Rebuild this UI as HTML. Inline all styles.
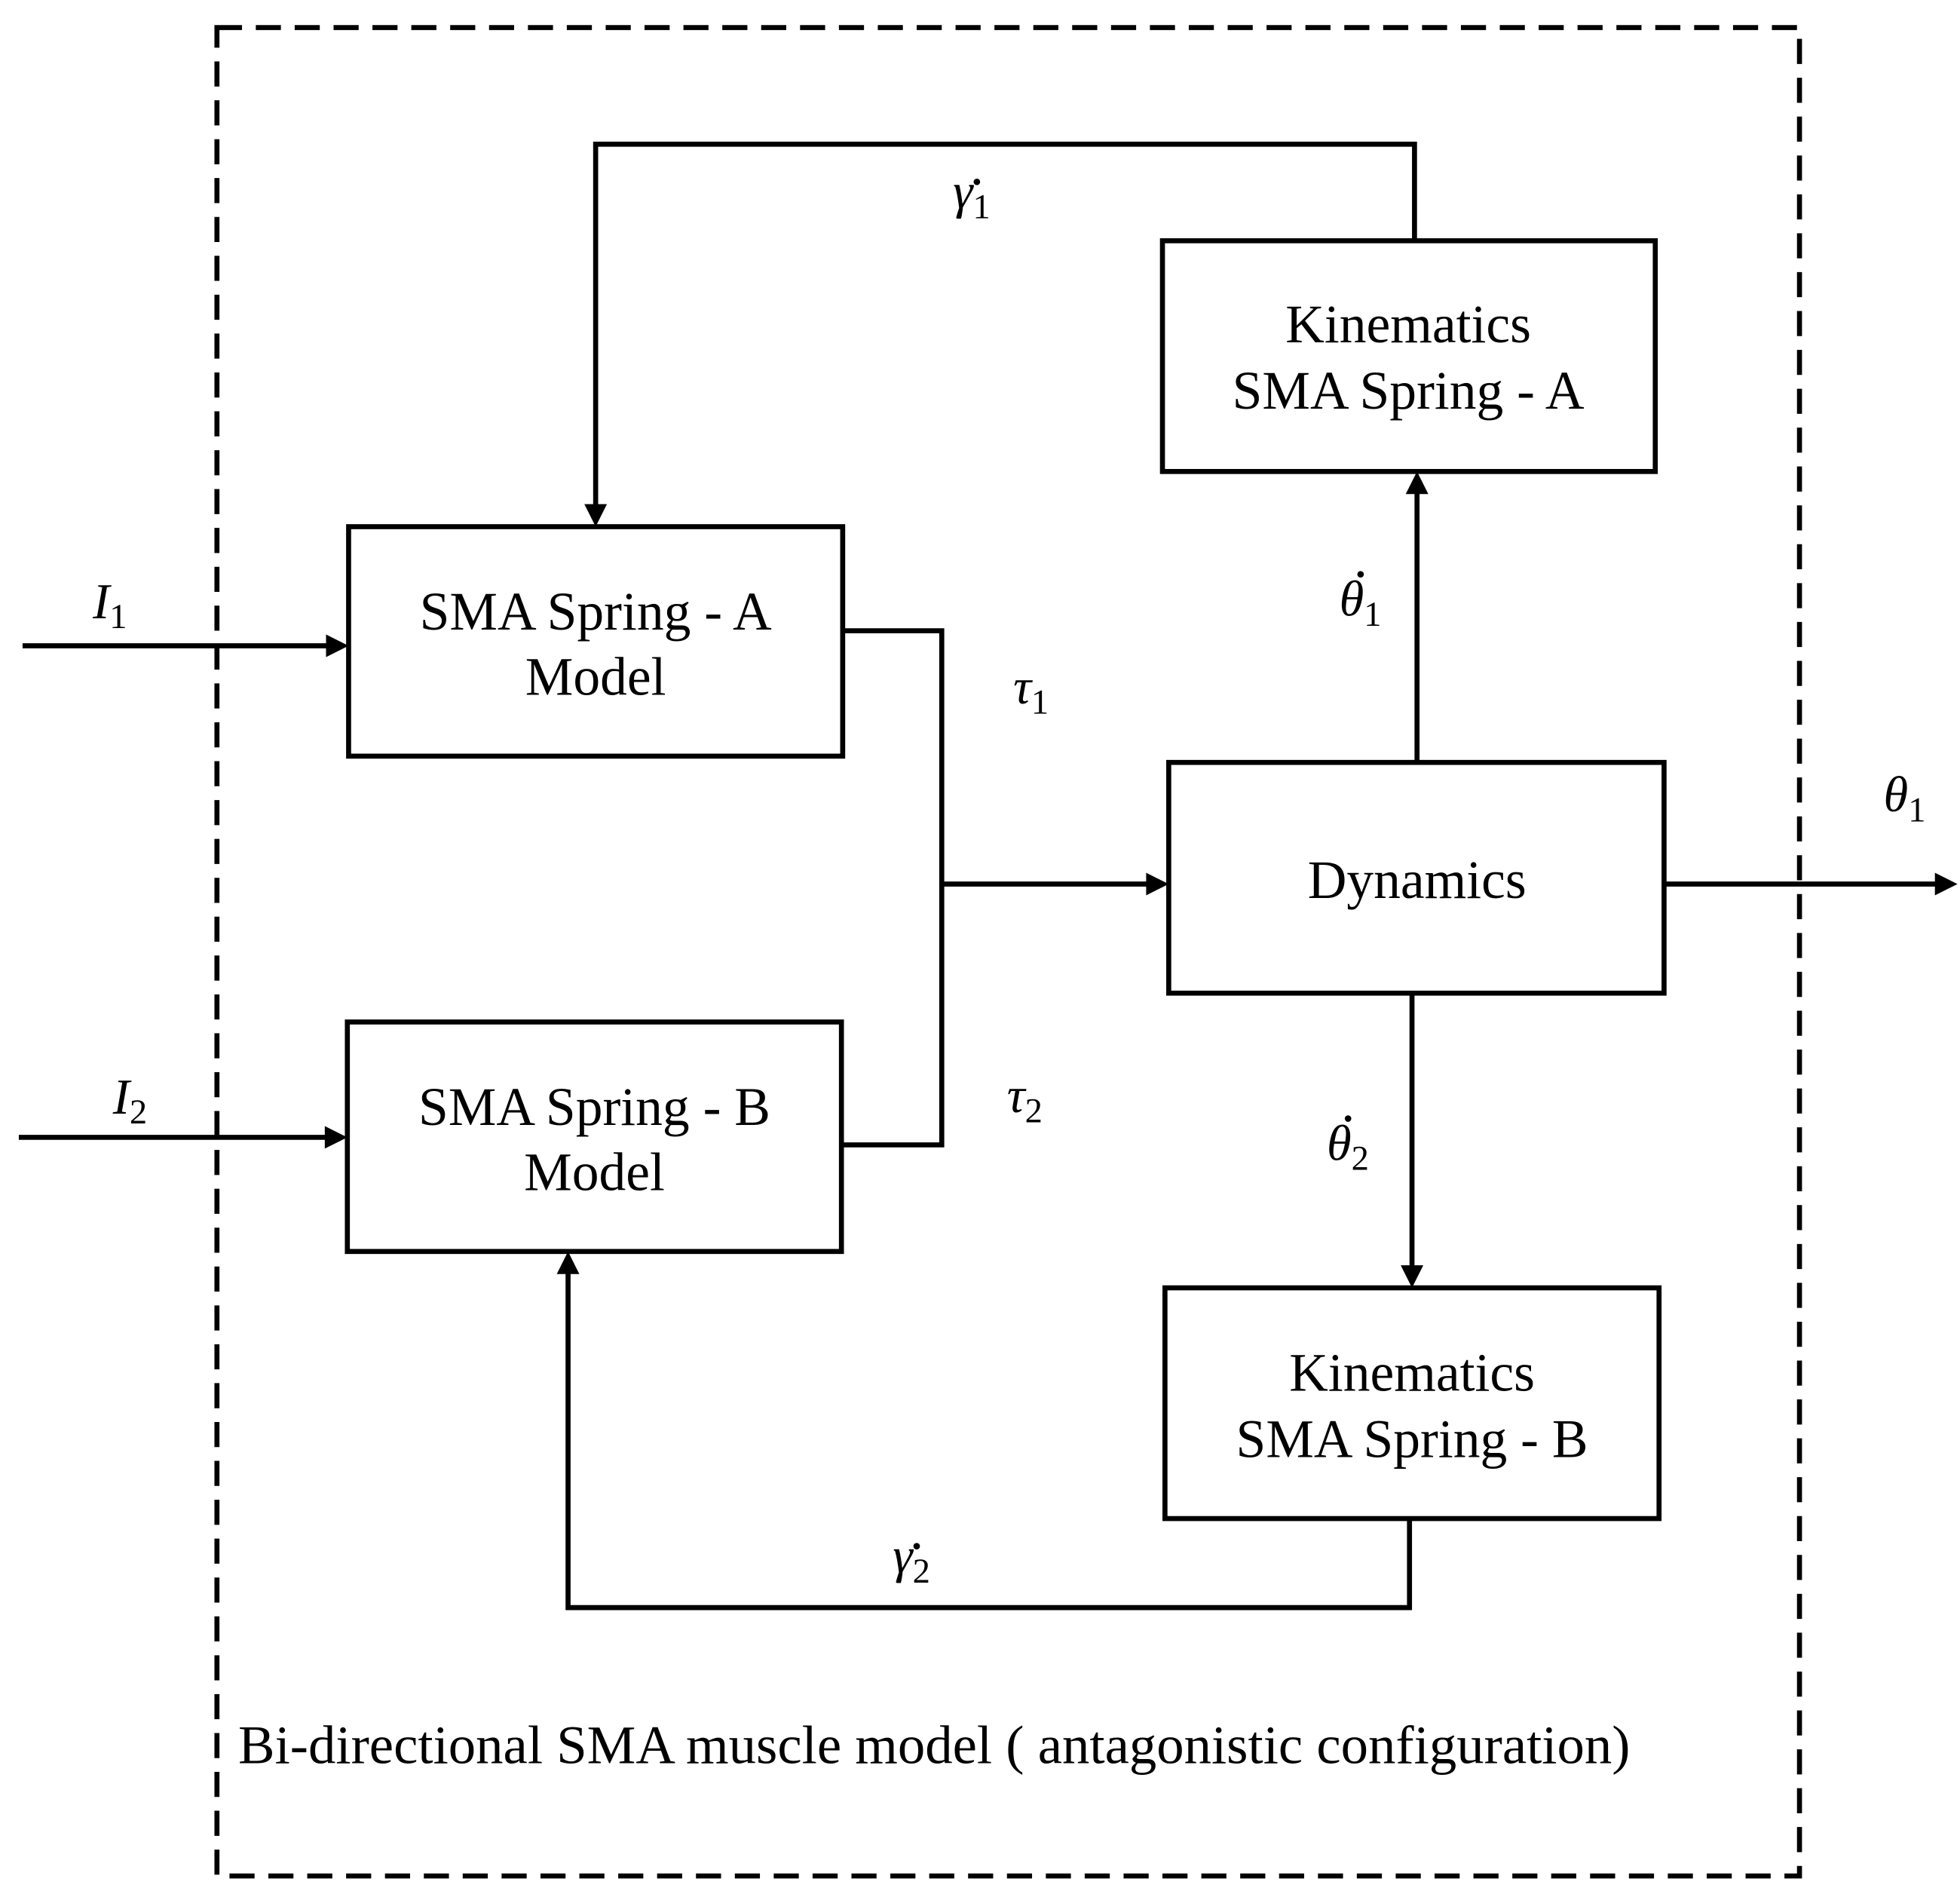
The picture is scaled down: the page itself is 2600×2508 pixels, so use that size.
<!DOCTYPE html>
<html><head><meta charset="utf-8">
<style>
html,body{margin:0;padding:0;background:#fff;}
svg{display:block;}
text{font-family:"Liberation Serif",serif;fill:#000;}
.b{font-size:43px;}
.m{font-size:40px;font-style:italic;}
.s{font-size:28px;font-style:normal;}
</style></head><body>
<svg width="2600" height="2508" viewBox="0 0 1563 1508" preserveAspectRatio="none" xmlns="http://www.w3.org/2000/svg">
<rect x="173" y="22" width="1262" height="1474" fill="none" stroke="#000" stroke-width="4" stroke-dasharray="20,11"/>
<g fill="none" stroke="#000" stroke-width="4">
<rect x="278" y="420" width="394" height="183"/>
<rect x="277" y="815" width="394" height="183"/>
<rect x="927" y="192" width="393" height="184"/>
<rect x="932" y="608" width="395" height="184"/>
<rect x="929" y="1027" width="394" height="184"/>
<path d="M18 515 H262"/>
<path d="M15 907 H261"/>
<path d="M672 503 H751 V913 H671"/>
<path d="M751 705 H916"/>
<path d="M1130 608 V392"/>
<path d="M1128 192 V115 H475 V404"/>
<path d="M1126 792 V1011"/>
<path d="M1124 1211 V1282 H453 V1014"/>
<path d="M1327 705 H1545"/>
</g>
<g fill="#000">
<polygon points="278,515 260,506 260,524"/>
<polygon points="277,907 259,898 259,916"/>
<polygon points="932,705 914,696 914,714"/>
<polygon points="1130,376 1121,394 1139,394"/>
<polygon points="475,420 466,402 484,402"/>
<polygon points="1126,1027 1117,1009 1135,1009"/>
<polygon points="453,998 444,1016 462,1016"/>
<polygon points="1561,705 1543,696 1543,714"/>
</g>
<g class="b" text-anchor="middle">
<text x="475" y="502">SMA Spring - A</text>
<text x="475" y="554">Model</text>
<text x="474" y="897">SMA Spring - B</text>
<text x="474" y="949">Model</text>
<text x="1123" y="273">Kinematics</text>
<text x="1123" y="326">SMA Spring - A</text>
<text x="1130" y="716">Dynamics</text>
<text x="1126" y="1109">Kinematics</text>
<text x="1126" y="1162">SMA Spring - B</text>
</g>
<text class="b" x="190" y="1406" textLength="1110" lengthAdjust="spacingAndGlyphs">Bi-directional SMA muscle model ( antagonistic configuration)</text>
<g class="m">
<text x="74" y="493">I<tspan class="s" dy="8">1</tspan></text>
<text x="90" y="888">I<tspan class="s" dy="8">2</tspan></text>
<text x="760" y="166">γ<tspan class="s" dy="8">1</tspan></text>
<text x="712" y="1254">γ<tspan class="s" dy="8">2</tspan></text>
<text x="1068" y="491">θ<tspan class="s" dy="8">1</tspan></text>
<text x="1058" y="925">θ<tspan class="s" dy="8">2</tspan></text>
<text x="808" y="561">τ<tspan class="s" dy="8">1</tspan></text>
<text x="803" y="887">τ<tspan class="s" dy="8">2</tspan></text>
<text x="1502" y="647">θ<tspan class="s" dy="8">1</tspan></text>
</g>
<g fill="#000">
<circle cx="779" cy="145" r="2.6"/>
<circle cx="731" cy="1233" r="2.6"/>
<circle cx="1085" cy="458" r="2.6"/>
<circle cx="1075" cy="892" r="2.6"/>
</g>
</svg>
</body></html>
